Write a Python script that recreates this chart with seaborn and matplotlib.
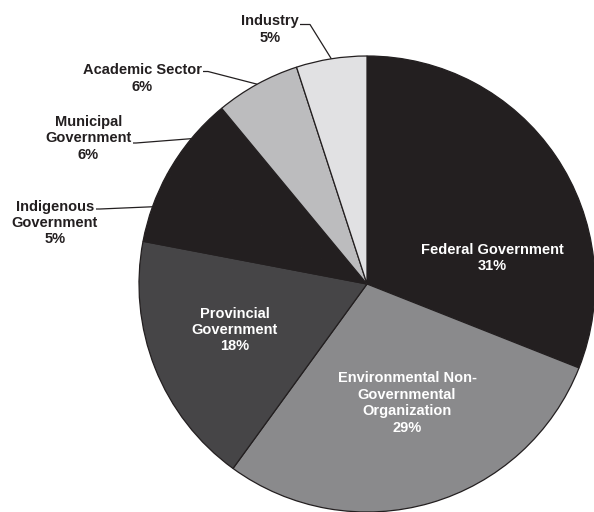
import numpy as np
import matplotlib
matplotlib.use("Agg")
import matplotlib.pyplot as plt
import seaborn as sns

# ---- data (clockwise from 12 o'clock) ----
categories = ["Federal Government", "Environmental Non-\nGovernmental\nOrganization",
              "Provincial\nGovernment", "Indigenous\nGovernment", "Municipal\nGovernment",
              "Academic Sector", "Industry"]
shares = [31, 29, 18, 5, 6, 6, 5]
colors = ["#231f20", "#8a8a8c", "#464547", "#231f20", "#231f20", "#bcbcbe", "#e1e1e3"]
inside = [True, True, True, False, False, False, False]

sns.set_theme(style="white")
plt.rcParams['font.family'] = ['Liberation Sans', 'DejaVu Sans']

W, H = 594, 512
fig = plt.figure(figsize=(W / 100, H / 100), dpi=100)
ax = fig.add_axes([0, 0, 1, 1])

cx, cy, R = 367, H - 284, 228
wedges, _ = ax.pie(shares, colors=colors, startangle=90, counterclock=False,
                   radius=R, center=(cx, cy), frame=True,
                   wedgeprops=dict(edgecolor="#231f20", linewidth=0.9))
for w in wedges:
    w.set_clip_on(False)
ax.set_xlim(0, W)
ax.set_ylim(0, H)
ax.set_aspect('equal')
ax.axis('off')

fs = 10.5
ls = 1.22
# inside labels: (x, y_down) block centre
inside_pos = {0: (492, 258), 1: (407, 403), 2: (234.5, 330)}
# outside labels: block centre, leader start, kink (y_down)
outside_pos = {
    3: ((55, 223), (96, 209), (100, 209)),
    4: ((88.5, 138.5), (133, 143), (136, 143)),
    5: ((142.5, 78.5), (203, 71.5), (208, 71.5)),
    6: ((270, 29.5), (300, 24.5), (310, 24.5)),
}

for i, (cat, val) in enumerate(zip(categories, shares)):
    txt = f"{cat}\n{val}%"
    w = wedges[i]
    mid = np.deg2rad((w.theta1 + w.theta2) / 2)
    if inside[i]:
        x, yd = inside_pos[i]
        ax.text(x, H - yd, txt, ha='center', va='center', color='white',
                fontsize=fs, fontweight='bold', linespacing=ls)
    else:
        (x, yd), (sx, syd), (kx, kyd) = outside_pos[i]
        ax.text(x, H - yd, txt, ha='center', va='center', color='#231f20',
                fontsize=fs, fontweight='bold', linespacing=ls)
        ex, ey = cx + R * np.cos(mid), cy + R * np.sin(mid)
        ax.plot([sx, kx, ex], [H - syd, H - kyd, ey], color='#231f20', lw=0.9,
                solid_capstyle='butt')

fig.savefig("out.png", dpi=100, facecolor='white')
